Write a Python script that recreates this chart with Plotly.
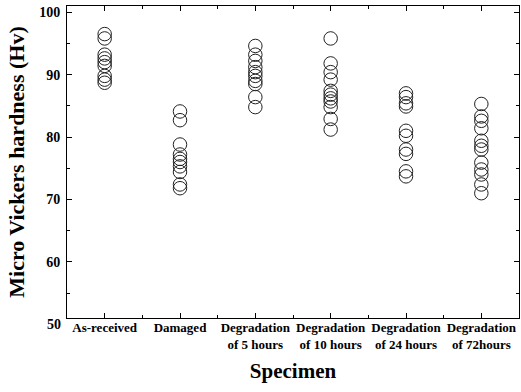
import plotly.graph_objects as go

categories = ["As-received", "Damaged", "Degradation<br>of 5 hours", "Degradation<br>of 10 hours",
              "Degradation<br>of 24 hours", "Degradation<br>of 72hours"]
y_ticks = [60, 70, 80, 90, 100]
y_bottom_label = 50

as_received = [96.5, 95.8, 93.2, 92.6, 92.0, 91.4, 89.8, 89.2, 88.7]
damaged = [84.1, 82.7, 78.8, 77.2, 76.5, 76.0, 75.3, 74.4, 72.4, 71.8]
deg_5h = [94.6, 93.2, 92.2, 91.2, 90.4, 89.8, 89.0, 88.5, 86.4, 84.8]
deg_10h = [95.8, 91.8, 90.4, 89.2, 87.4, 86.8, 86.2, 85.7, 84.8, 82.9, 81.2]
deg_24h = [87.0, 86.4, 85.4, 84.9, 81.0, 80.2, 78.0, 77.3, 74.5, 73.7]
deg_72h = [85.3, 83.3, 82.6, 81.4, 79.4, 78.6, 78.0, 75.9, 74.8, 74.0, 72.4, 71.0]

series = [as_received, damaged, deg_5h, deg_10h, deg_24h, deg_72h]
y_range = [51, 101]

fig = go.Figure()
for i, vals in enumerate(series):
    fig.add_trace(go.Scatter(
        x=[i] * len(vals), y=vals, mode="markers",
        marker=dict(symbol="circle-open", size=13.5, color="#222", line=dict(width=1, color="#222")),
        showlegend=False, hoverinfo="y"))

font_fam = "Liberation Serif, Times New Roman, serif"
fig.update_layout(
    width=521, height=392,
    margin=dict(l=67, r=2, t=6, b=74),
    paper_bgcolor="white", plot_bgcolor="white",
    font=dict(family=font_fam, color="black"),
)
fig.update_xaxes(
    automargin=False,
    range=[-0.5, 5.5], tickmode="array", tickvals=list(range(6)), ticktext=[f"<b>{c}</b>" for c in categories],
    ticks="inside", ticklen=5, tickcolor="black", mirror="ticks", showline=True, linecolor="black", linewidth=1,
    showgrid=False, zeroline=False, tickfont=dict(size=13, family=font_fam, color="black"),
    ticklabelstandoff=-3,
    minor=dict(tickmode="array", tickvals=[0.5, 1.5, 2.5, 3.5, 4.5], ticks="inside", ticklen=3, tickcolor="black"),
    title=dict(text="<b>Specimen</b>", font=dict(size=21, family=font_fam, color="black"), standoff=12),
)
fig.update_yaxes(
    automargin=False,
    range=y_range, tickmode="array", tickvals=y_ticks,
    ticktext=[f"<b>{v}</b>" for v in y_ticks],
    ticks="inside", ticklen=5, tickcolor="black", mirror="ticks", showline=True, linecolor="black", linewidth=1,
    showgrid=False, zeroline=False, tickfont=dict(size=14, family=font_fam, color="black"),
    ticklabelstandoff=3,
    minor=dict(tickmode="array", tickvals=[55, 65, 75, 85, 95], ticks="inside", ticklen=3, tickcolor="black"),
    title=dict(text="<b>Micro Vickers hardness (Hv)</b>", font=dict(size=22, family=font_fam, color="black"), standoff=8),
)
# bottom "50" label sits just below the axis frame, as in the original
y_paper = (y_bottom_label - y_range[0]) / (y_range[1] - y_range[0])
fig.add_annotation(
    xref="paper", yref="paper", x=0, y=y_paper, text=f"<b>{y_bottom_label}</b>",
    showarrow=False, xanchor="right", yanchor="middle", xshift=-4,
    font=dict(size=14, family=font_fam, color="black"))
fig.write_html("out.html", config={"displayModeBar": False},
               post_script="document.body.style.margin='0';")
